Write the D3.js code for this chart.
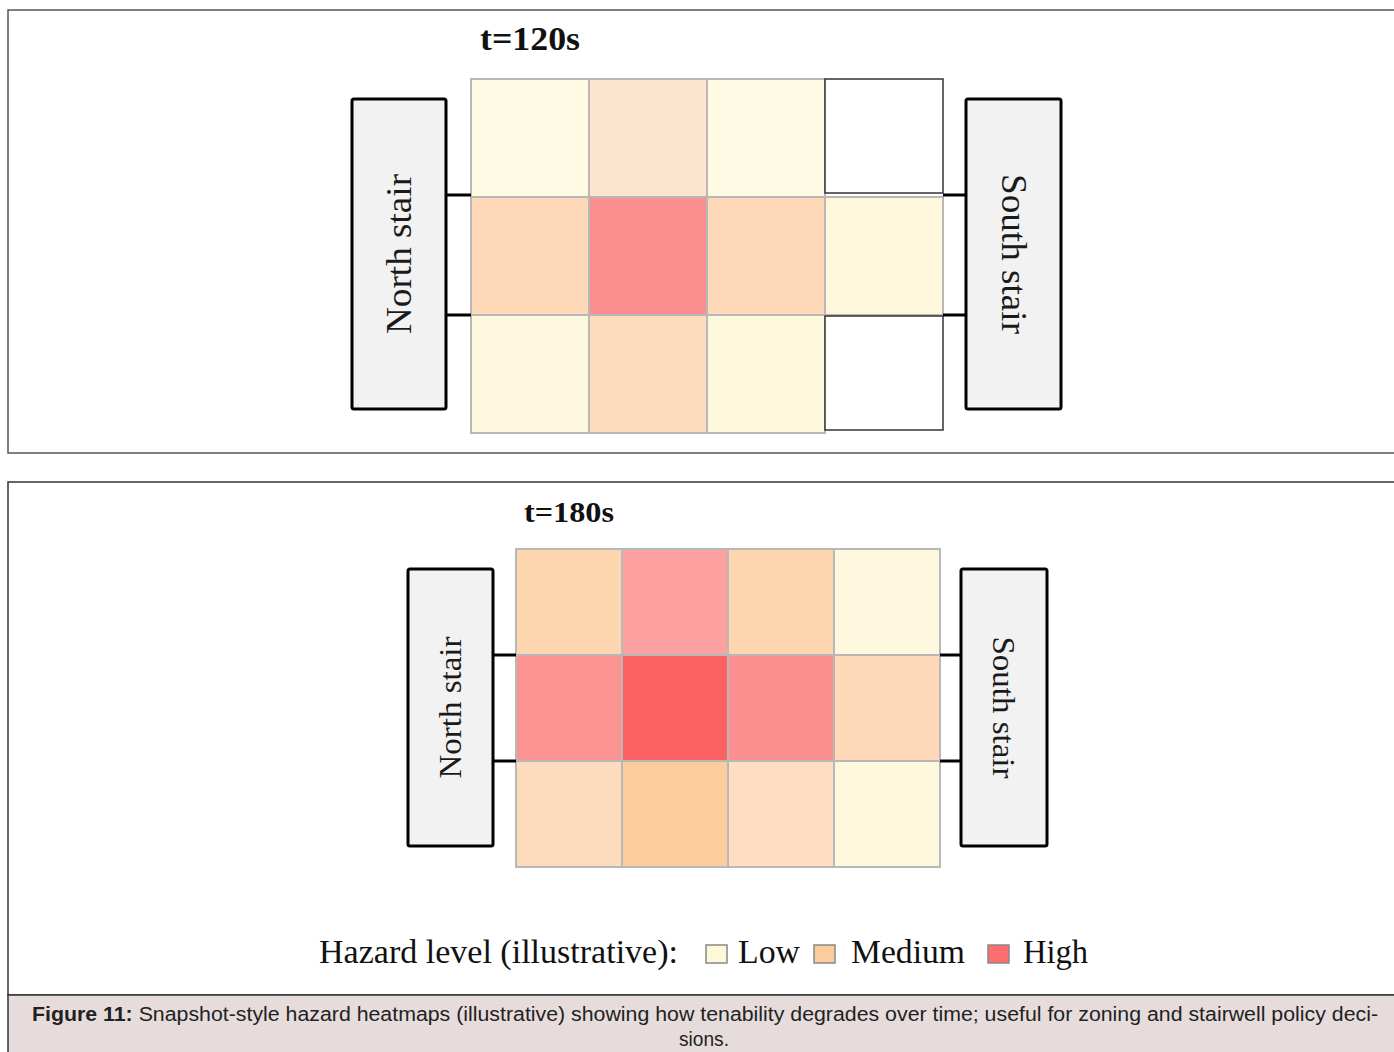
<!DOCTYPE html>
<html>
<head>
<meta charset="utf-8">
<script src="https://cdn.jsdelivr.net/npm/d3@7"></script>
<style>
  html, body { margin: 0; padding: 0; background: #fff; }
  svg { display: block; }
</style>
</head>
<body>
<svg id="chart" width="1394" height="1052"></svg>
<script>
// ---- data ----
const rowIds = ["r1", "r2", "r3"];
const colIds = ["c1", "c2", "c3", "c4"];
// hazard index 0..1 (null = zone not shaded)
const hazard120 = [
  [0.10, 0.36, 0.10, null],
  [0.48, 0.785, 0.48, 0.25],
  [0.20, 0.45, 0.22, null]
];
const hazard180 = [
  [0.52, 0.715, 0.52, 0.20],
  [0.77, 0.987, 0.785, 0.48],
  [0.45, 0.62, 0.425, 0.22]
];
const panelTitles = ["t=120s", "t=180s"];
const stairLabels = ["North stair", "South stair"];
const legendTitle = "Hazard level (illustrative):";
const legendLabels = ["Low", "Medium", "High"];
const legendValues = [0.30, 0.62, 0.93];
const captionBold = "Figure 11:";
const captionLine1 = " Snapshot-style hazard heatmaps (illustrative) showing how tenability degrades over time; useful for zoning and stairwell policy deci-";
const captionLine2 = "sions.";

// ---- styles / scales ----
const color = d3.scaleLinear()
  .domain([0, 0.335, 0.34, 0.66, 0.67, 1])
  .range(["#fffbea", "#fef6d6", "#fde6d2", "#fdc894", "#fcaaaa", "#fd5f5f"]);

const SERIF = "'Liberation Serif', 'Times New Roman', serif";
const SANS = "'Liberation Sans', Arial, sans-serif";

const svg = d3.select("#chart");
svg.append("rect").attr("width", 1394).attr("height", 1052).attr("fill", "#fff");

// panel frames
svg.append("rect").attr("x", 8).attr("y", 10).attr("width", 1400).attr("height", 443)
  .attr("fill", "#fff").attr("stroke", "#555").attr("stroke-width", 1.5);
svg.append("rect").attr("x", 8).attr("y", 482).attr("width", 1400).attr("height", 513)
  .attr("fill", "#fff").attr("stroke", "#333").attr("stroke-width", 1.5);

const panels = [
  { data: hazard120, title: panelTitles[0], titleX: 480, titleY: 50, titleLen: 100, titleSize: 34,
    gx: [471, 943], gy: [79, 433], north: [352, 446], south: [966, 1061], sy: [99, 409], stairFont: 36, stairLen: 160, lineShift: -2 },
  { data: hazard180, title: panelTitles[1], titleX: 524, titleY: 522, titleLen: 90, titleSize: 30,
    gx: [516, 940], gy: [549, 867], north: [408, 493], south: [961, 1047], sy: [569, 846], stairFont: 32, stairLen: 142, lineShift: 0 }
];

panels.forEach(p => {
  const g = svg.append("g");
  const x = d3.scaleBand().domain(colIds).range(p.gx).paddingInner(0).paddingOuter(0);
  const y = d3.scaleBand().domain(rowIds).range(p.gy).paddingInner(0).paddingOuter(0);

  g.append("text").attr("x", p.titleX).attr("y", p.titleY)
    .attr("font-family", SERIF).attr("font-weight", "bold").attr("font-size", p.titleSize)
    .attr("textLength", p.titleLen).attr("lengthAdjust", "spacingAndGlyphs")
    .attr("fill", "#111").text(p.title);

  const cells = [];
  p.data.forEach((row, i) => row.forEach((v, j) => cells.push({ r: rowIds[i], c: colIds[j], v })));

  // shaded cells
  g.selectAll("rect.cell").data(cells.filter(d => d.v !== null)).join("rect")
    .attr("class", "cell")
    .attr("x", d => x(d.c)).attr("y", d => y(d.r))
    .attr("width", x.bandwidth()).attr("height", y.bandwidth())
    .attr("fill", d => color(d.v)).attr("stroke", "#b8b8b8").attr("stroke-width", 2);

  // unshaded zones
  g.selectAll("rect.empty").data(cells.filter(d => d.v === null)).join("rect")
    .attr("class", "empty")
    .attr("x", d => x(d.c)).attr("y", d => d.r === rowIds[0] ? y(d.r) : y(d.r) + 1)
    .attr("width", x.bandwidth()).attr("height", y.bandwidth() - 4)
    .attr("fill", "#fff").attr("stroke", "#333").attr("stroke-width", 1.5);

  // connectors at the corridor row boundaries
  const yLines = [y(rowIds[1]) + p.lineShift, y(rowIds[2])];
  yLines.forEach(yy => {
    g.append("line").attr("x1", p.north[1]).attr("x2", p.gx[0]).attr("y1", yy).attr("y2", yy)
      .attr("stroke", "#000").attr("stroke-width", 3);
    g.append("line").attr("x1", p.gx[1]).attr("x2", p.south[0]).attr("y1", yy).attr("y2", yy)
      .attr("stroke", "#000").attr("stroke-width", 3);
  });

  // stair boxes
  [[p.north, stairLabels[0], -90], [p.south, stairLabels[1], 90]].forEach(([sx, label, rot]) => {
    g.append("rect").attr("x", sx[0]).attr("y", p.sy[0])
      .attr("width", sx[1] - sx[0]).attr("height", p.sy[1] - p.sy[0])
      .attr("rx", 2).attr("fill", "#f2f2f2").attr("stroke", "#000").attr("stroke-width", 3);
    const cx = (sx[0] + sx[1]) / 2, cy = (p.sy[0] + p.sy[1]) / 2;
    g.append("text").attr("transform", `translate(${cx},${cy}) rotate(${rot})`)
      .attr("text-anchor", "middle").attr("dy", "0.33em")
      .attr("font-family", SERIF).attr("font-size", p.stairFont).attr("fill", "#1a1a1a")
      .attr("textLength", p.stairLen).attr("lengthAdjust", "spacingAndGlyphs")
      .text(label);
  });
});

// legend
const lg = svg.append("g");
lg.append("text").attr("x", 319).attr("y", 963).attr("font-family", SERIF).attr("font-size", 34)
  .attr("fill", "#111").attr("textLength", 359).attr("lengthAdjust", "spacingAndGlyphs").text(legendTitle);
const swX = [706, 814, 988], txX = [738, 851, 1023], txLen = [62, 114, 65];
legendLabels.forEach((lab, i) => {
  lg.append("rect").attr("x", swX[i]).attr("y", 945).attr("width", 21).attr("height", 18)
    .attr("fill", color(legendValues[i])).attr("stroke", "#888").attr("stroke-width", 1.5);
  lg.append("text").attr("x", txX[i]).attr("y", 963).attr("font-family", SERIF).attr("font-size", 34)
    .attr("fill", "#111").attr("textLength", txLen[i]).attr("lengthAdjust", "spacingAndGlyphs").text(lab);
});

// caption
svg.append("rect").attr("x", 8).attr("y", 995).attr("width", 1400).attr("height", 70)
  .attr("fill", "#e7dcdc").attr("stroke", "#333").attr("stroke-width", 1.5);
const cap = svg.append("text").attr("x", 32).attr("y", 1021).attr("font-family", SANS).attr("font-size", 20)
  .attr("fill", "#222").attr("textLength", 1346).attr("lengthAdjust", "spacingAndGlyphs");
cap.append("tspan").attr("font-weight", "bold").text(captionBold);
cap.append("tspan").text(captionLine1);
svg.append("text").attr("x", 679).attr("y", 1046)
  .attr("font-family", SANS).attr("font-size", 20).attr("fill", "#222")
  .attr("textLength", 50).attr("lengthAdjust", "spacingAndGlyphs").text(captionLine2);
</script>
</body>
</html>
